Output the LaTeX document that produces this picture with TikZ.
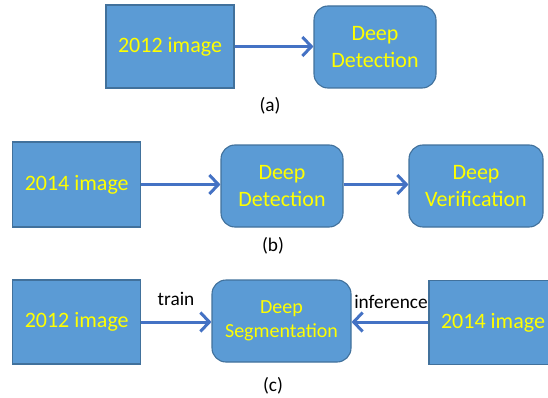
\documentclass[tikz,border=0pt]{standalone}
\usepackage{fontspec}
\setmainfont{Carlito}
\usetikzlibrary{arrows.meta}
\definecolor{boxfill}{HTML}{5B9BD5}
\definecolor{boxline}{HTML}{41719C}
\definecolor{arrowblue}{HTML}{4472C4}
\definecolor{txtyellow}{HTML}{FFFF00}
\tikzset{
  imgbox/.style={draw=boxline, line width=1.1pt, fill=boxfill, inner sep=0pt,
    text=txtyellow, font=\fontsize{22}{27}\selectfont, align=center},
  netbox/.style={imgbox, rounded corners=14pt},
  flow/.style={draw=arrowblue, line width=3pt,
    -{Straight Barb[length=9pt,width=19pt,line width=3pt]}},
  caption/.style={inner sep=0pt, font=\fontsize{19.3}{22}\selectfont, text=black}
}
\begin{document}
\begin{tikzpicture}[x=1pt,y=1pt]
  \useasboundingbox (0,0) rectangle (548,397);
  \clip (0,0) rectangle (548,397);

  % (a) detection on 2012 images
  \node[imgbox, minimum width=128pt, minimum height=83pt] (img1) at (170,350.5) {2012 image};
  \node[netbox, minimum width=122pt, minimum height=82pt] (det1) at (375,350) {Deep\\Detection};
  \draw[flow] (img1.east) -- (img1.east -| det1.west);
  \node[caption] (capa) at (270,291) {(a)};

  % (b) detection followed by verification on 2014 images
  \node[imgbox, minimum width=128pt, minimum height=85pt] (img2) at (76.7,212.5) {2014 image};
  \node[netbox, minimum width=122pt, minimum height=82pt] (det2) at (282,211) {Deep\\Detection};
  \node[netbox, minimum width=134pt, minimum height=82pt] (ver) at (476,211) {Deep\\Verification};
  \draw[flow] (img2.east) -- (img2.east -| det2.west);
  \draw[flow] (img2.east -| det2.east) -- (img2.east -| ver.west);
  \node[caption] (capb) at (273,151.5) {(b)};

  % (c) segmentation trained on 2012, applied to 2014
  \node[imgbox, minimum width=128pt, minimum height=84pt] (img3) at (76.7,75) {2012 image};
  \node[netbox, minimum width=139pt, minimum height=82pt,
        font=\fontsize{20}{23.5}\selectfont] (seg) at (281.5,76) {Deep\\Segmentation};
  \node[imgbox, minimum width=128pt, minimum height=84pt] (img4) at (493,74.5) {2014 image};
  \draw[flow] (img3.east) -- (img3.east -| seg.west);
  \draw[flow] (img3.east -| img4.west) -- (img3.east -| seg.east);
  \node[caption] (train) at (176,98) {train};
  \node[caption] (infer) at (391,95) {inference};
  \node[caption] (capc) at (273,11.5) {(c)};
\end{tikzpicture}
\end{document}
